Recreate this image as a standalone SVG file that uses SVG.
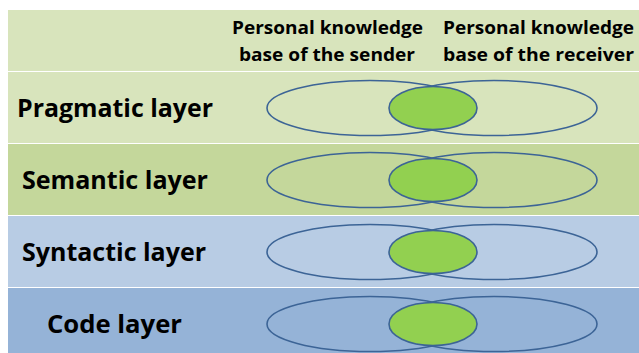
<svg xmlns="http://www.w3.org/2000/svg" width="639" height="353" viewBox="0 0 639 353">
  <style>
    .layer-label { font-family: "Open Sans", "Liberation Sans", sans-serif; font-weight: bold; font-size: 25px; fill: #000; }
    .head { font-family: "Open Sans", "Liberation Sans", sans-serif; font-weight: bold; font-size: 18px; fill: #000; text-anchor: middle; }
    .kb { fill: none; stroke: #3c6496; stroke-width: 1.6; }
    .shared { fill: #92d050; stroke: #3c6496; stroke-width: 1.6; }
  </style>
  <defs>
    <!-- two overlapping knowledge bases with their shared region -->
    <g id="kb-pair">
      <ellipse class="kb" cx="370" cy="0" rx="103" ry="27.5"/>
      <ellipse class="kb" cx="494" cy="0" rx="103" ry="27.5"/>
      <ellipse class="shared" cx="433" cy="0" rx="44" ry="21.5"/>
    </g>
  </defs>

  <rect x="0" y="0" width="639" height="353" fill="#ffffff"/>

  <!-- header band -->
  <g id="header">
    <rect x="8" y="10" width="631" height="61" fill="#d8e4bc"/>
    <text class="head" x="327.5" y="34" textLength="191" lengthAdjust="spacingAndGlyphs">Personal knowledge</text>
    <text class="head" x="327" y="61" textLength="176" lengthAdjust="spacingAndGlyphs">base of the sender</text>
    <text class="head" x="538.5" y="34" textLength="191" lengthAdjust="spacingAndGlyphs">Personal knowledge</text>
    <text class="head" x="538.5" y="61" textLength="191" lengthAdjust="spacingAndGlyphs">base of the receiver</text>
  </g>

  <g id="pragmatic">
    <rect x="8" y="72" width="631" height="71" fill="#d8e4bc"/>
    <text class="layer-label" x="17" y="117" textLength="196" lengthAdjust="spacingAndGlyphs">Pragmatic layer</text>
    <use href="#kb-pair" y="108"/>
  </g>

  <g id="semantic">
    <rect x="8" y="144" width="631" height="71" fill="#c4d79b"/>
    <text class="layer-label" x="22" y="189" textLength="186" lengthAdjust="spacingAndGlyphs">Semantic layer</text>
    <use href="#kb-pair" y="180"/>
  </g>

  <g id="syntactic">
    <rect x="8" y="216" width="631" height="71" fill="#b8cce4"/>
    <text class="layer-label" x="22" y="261" textLength="184" lengthAdjust="spacingAndGlyphs">Syntactic layer</text>
    <use href="#kb-pair" y="252"/>
  </g>

  <g id="code">
    <rect x="8" y="288" width="631" height="65" fill="#95b3d7"/>
    <text class="layer-label" x="47" y="333" textLength="135" lengthAdjust="spacingAndGlyphs">Code layer</text>
    <use href="#kb-pair" y="324"/>
  </g>

  <!-- thin separators between bands -->
  <g id="connectors" stroke="#ffffff" stroke-width="1.2">
    <line x1="8" y1="71.5" x2="639" y2="71.5" stroke-opacity="0.9"/>
    <line x1="8" y1="143.5" x2="639" y2="143.5" stroke-opacity="0.4"/>
    <line x1="8" y1="215.5" x2="639" y2="215.5" stroke-opacity="0.4"/>
    <line x1="8" y1="287.5" x2="639" y2="287.5" stroke-opacity="0.4"/>
  </g>
</svg>
